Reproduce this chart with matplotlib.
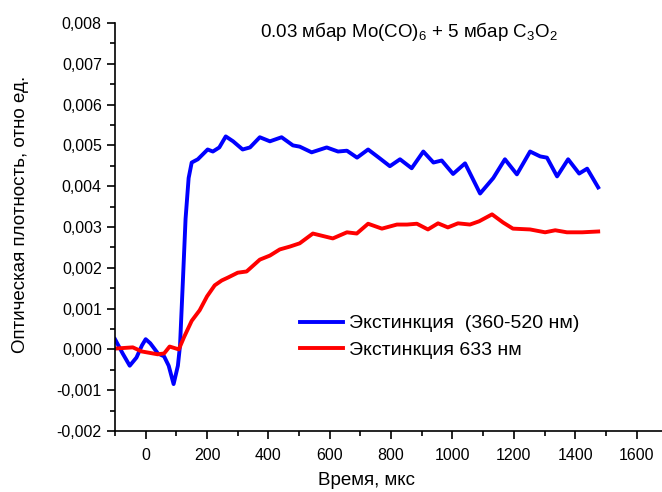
import numpy as np
import matplotlib
matplotlib.use('Agg')
import matplotlib.pyplot as plt
from matplotlib.ticker import MultipleLocator, FuncFormatter

plt.rcParams['font.family'] = ['Liberation Sans', 'DejaVu Sans']
plt.rcParams['mathtext.fontset'] = 'custom'
plt.rcParams['mathtext.rm'] = 'Liberation Sans'
plt.rcParams['mathtext.it'] = 'Liberation Sans'

# Extinction (360-520 nm), blue
t_blue = [-100, -75, -52, -30, -12, 0, 15, 40, 60, 75, 91, 105, 112, 122, 130, 140, 150, 170,
          202, 219, 240, 261, 285, 316, 340, 372, 405, 443, 480, 502, 541, 590, 627, 656,
          689, 725, 760, 796, 829, 867, 905, 938, 965, 1002, 1041, 1090, 1133, 1171, 1210,
          1253, 1286, 1308, 1341, 1377, 1413, 1439, 1475]
od_blue = [0.00025, -0.0001, -0.0004, -0.0002, 0.0001, 0.00025, 0.00015, -0.0001, -0.00017,
           -0.0004, -0.00085, -0.0004, 0.0001, 0.0018, 0.0032, 0.0042, 0.00458, 0.00466,
           0.0049, 0.00485, 0.00495, 0.00522, 0.0051, 0.0049, 0.00495, 0.0052, 0.0051, 0.0052,
           0.0050, 0.00497, 0.00483, 0.00495, 0.00485, 0.00487, 0.0047, 0.0049, 0.0047, 0.00449,
           0.00466, 0.00444, 0.00485, 0.00458, 0.00463, 0.0043, 0.00456, 0.00382, 0.0042,
           0.00466, 0.00429, 0.00485, 0.00473, 0.0047, 0.00424, 0.00466, 0.00431, 0.00443,
           0.00397]

# Extinction 633 nm, red
t_red = [-100, -42, -13, 39, 60, 78, 108, 125, 150, 176, 200, 225, 248, 268, 300, 329, 372,
         405, 437, 470, 502, 545, 610, 656, 688, 725, 770, 819, 852, 884, 920, 953, 985, 1018,
         1057, 1087, 1129, 1165, 1197, 1253, 1302, 1335, 1373, 1423, 1475]
od_red = [0.00002, 0.00005, -0.00005, -0.00012, -0.0001, 0.00007, 0.0, 0.0003, 0.0007,
          0.00096, 0.0013, 0.00157, 0.00169, 0.00176, 0.00188, 0.00191, 0.0022, 0.0023,
          0.00245, 0.00252, 0.0026, 0.00284, 0.00272, 0.00287, 0.00284, 0.00308, 0.00296,
          0.00306, 0.00306, 0.00308, 0.00294, 0.00309, 0.00299, 0.00309, 0.00306, 0.00314,
          0.00331, 0.00311, 0.00296, 0.00294, 0.00287, 0.00292, 0.00287, 0.00287, 0.00289]

fig = plt.figure(figsize=(6.62, 4.92), dpi=100)
ax = fig.add_axes([115 / 662, 61 / 492, 547 / 662, 408 / 492])

ax.plot(t_blue, od_blue, color='#0000ff', lw=2.8, label='Экстинкция  (360-520 нм)')
ax.plot(t_red, od_red, color='#ff0000', lw=2.8, label='Экстинкция 633 нм')

ax.set_xlim(-100, 1683)
ax.set_ylim(-0.002, 0.008)
ax.spines['top'].set_visible(False)
ax.spines['right'].set_visible(False)

ax.xaxis.set_major_locator(MultipleLocator(200))
ax.xaxis.set_minor_locator(MultipleLocator(100))
ax.yaxis.set_major_locator(MultipleLocator(0.001))
ax.yaxis.set_minor_locator(MultipleLocator(0.0005))
ax.yaxis.set_major_formatter(FuncFormatter(lambda v, p: f'{v:.3f}'.replace('.', ',').replace('-0,000', '0,000')))
ax.tick_params(which='major', direction='out', length=6, width=1.2, labelsize=11.5)
ax.tick_params(which='minor', direction='out', length=3.5, width=1.2)
ax.tick_params(axis='x', pad=6)
for s in ['left', 'bottom']:
    ax.spines[s].set_linewidth(1.2)

ax.set_xlabel('Время, мкс', fontsize=13.5)
ax.xaxis.set_label_coords(0.46, -0.1)
ax.set_ylabel('Оптическая плотность, отно ед.', fontsize=13.5)
ax.yaxis.set_label_coords(-0.158, 0.53)

ax.text(0.537, 0.98, r'0.03 мбар Mo(CO)$_6$ + 5 мбар C$_3$O$_2$', transform=ax.transAxes,
        ha='center', va='center', fontsize=13.5)

ax.legend(loc='upper left', bbox_to_anchor=(0.338, 0.285), frameon=False, fontsize=14,
          handlelength=2.2, handletextpad=0.35, labelspacing=0.45, borderpad=0, borderaxespad=0)

fig.savefig('out.png', dpi=100)
